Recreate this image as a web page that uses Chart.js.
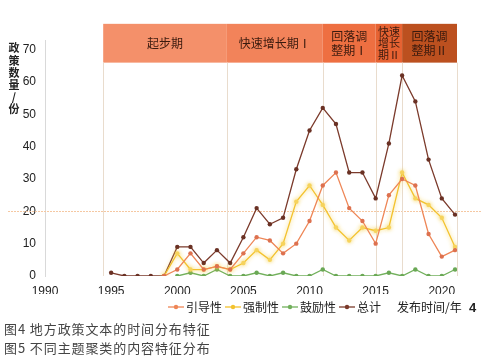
<!DOCTYPE html>
<html><head><meta charset="utf-8">
<script src="https://cdn.jsdelivr.net/npm/chart.js@4/dist/chart.umd.min.js"></script>
<style>
html,body{margin:0;padding:0;background:#fff;width:481px;height:357px;overflow:hidden;}
#wrap{position:absolute;left:0;top:0;width:481px;height:325px;}
.cap{position:absolute;left:4px;font:13px "Noto Sans CJK SC",sans-serif;line-height:19px;color:#444;letter-spacing:0.9px;white-space:pre;}
</style></head><body>
<div id="wrap"><canvas id="c" width="481" height="325"></canvas></div>
<div class="cap" style="top:319px">图4 地方政策文本的时间分布特征</div>
<div class="cap" style="top:338px">图5 不同主题聚类的内容特征分布</div>
<script>
// ---- data ----
const years = [1995,1996,1997,1998,1999,2000,2001,2002,2003,2004,2005,2006,2007,2008,2009,2010,2011,2012,2013,2014,2015,2016,2017,2018,2019,2020,2021];
const guiding     = [null,null,null,null,0,2,7,2,3,2,7,12,11,7,10,17,28,32,21,17,10,25,30,28,13,6,8];
const mandatory   = [null,null,null,null,0,7,2,2,3,2,4,8,5,10,23,28,22,15,11,15,14,15,32,24,22,18,9];
const encouraging = [null,null,null,null,null,0,1,0,2,0,0,1,0,1,0,0,2,0,0,0,0,1,0,2,0,0,2];
const total       = [1,0,0,0,0,9,9,4,8,4,12,21,16,18,33,45,52,47,32,32,24,41,62,54,36,24,19];
const seriesNames = ['引导性','强制性','鼓励性','总计'];
const periodNames = ['起步期','快速增长期Ⅰ','回落调\n整期Ⅰ','快速\n增长\n期Ⅱ','回落调\n整期Ⅱ'];
const periodEdges = [1994.4, 2003.75, 2011, 2015, 2017, 2021.15];
const yTicks = [0,10,20,30,40,50,60,70];
const xTicks = [1990,1995,2000,2005,2010,2015,2020];
const yAxisTitle = '政策数量/份';
const xAxisTitle = '发布时间/年';

// ---- styles ----
const colors = ['#EE8656','#F3C22E','#72B05C','#7B3A2B'];
const pointColors = ['#DD714F','#F6D35C','#6AA855','#6A3124'];
const periodColors = ['#F4906A','#F2835A','#EE6F41','#E66232','#BC501F'];

const toXY = arr => years.map((x,i)=>({x:x,y:arr[i]}));
const seriesData = [guiding, mandatory, encouraging, total];

function markerImg(color){
  const c=document.createElement('canvas'); c.width=16; c.height=8;
  const g=c.getContext('2d');
  g.strokeStyle=color; g.lineWidth=1.3;
  g.beginPath(); g.moveTo(0,4); g.lineTo(16,4); g.stroke();
  g.fillStyle=color; g.beginPath(); g.arc(8,4,2.2,0,Math.PI*2); g.fill();
  return c;
}
const markers = colors.map(markerImg);

Chart.defaults.font.family = '"Liberation Sans","Noto Sans CJK SC",sans-serif';
Chart.defaults.color = '#222';

const deco = {
  id:'deco',
  afterLayout(chart){
    const lg = chart.legend;
    if(!lg || !lg.lineWidths) return;
    const pad = lg.options.labels.padding;
    const start = (lg.left + pad + lg.right - lg.lineWidths[0]) / 2;
    const dx = 172 - start;
    lg.left += dx; lg.right += dx;
  },
  beforeDatasetsDraw(chart){
    const {ctx, scales:{x,y}, chartArea} = chart;
    ctx.save();
    // reference line at 20
    const y20 = y.getPixelForValue(20);
    ctx.strokeStyle='#F5C8A2'; ctx.lineWidth=1; ctx.setLineDash([2,1]);
    ctx.beginPath(); ctx.moveTo(8,Math.round(y20)+0.5); ctx.lineTo(chart.width,Math.round(y20)+0.5); ctx.stroke();
    ctx.setLineDash([]);
    // period bands
    const top = y.getPixelForValue(78), bot = y.getPixelForValue(66);
    for(let i=0;i<periodNames.length;i++){
      const l = x.getPixelForValue(periodEdges[i]), r = x.getPixelForValue(periodEdges[i+1]);
      ctx.fillStyle = periodColors[i];
      ctx.fillRect(l, top, r-l, bot-top);
      const lines = periodNames[i].split('\n');
      ctx.fillStyle = '#3A1A0E';
      const three = lines.length>2;
      ctx.font = (three?'11px':'12px')+' "Noto Sans CJK SC",sans-serif';
      ctx.textAlign='center'; ctx.textBaseline='middle';
      const lh = three ? 11.5 : 14.5;
      const cy = (top+bot)/2, cx=(l+r)/2;
      lines.forEach((t,k)=>ctx.fillText(t, cx, cy + (k-(lines.length-1)/2)*lh));
    }
    // vertical separators
    ctx.strokeStyle='#E9DCCD'; ctx.lineWidth=1;
    for(let i=0;i<periodEdges.length;i++){
      const px = Math.round(x.getPixelForValue(periodEdges[i]))+0.5;
      ctx.beginPath(); ctx.moveTo(px, bot); ctx.lineTo(px, chartArea.bottom); ctx.stroke();
    }
    ctx.restore();
  },
  beforeDatasetDraw(chart, args){
    if(args.index===1){ chart.ctx.save(); chart.ctx.shadowColor='rgba(246,205,60,0.85)'; chart.ctx.shadowBlur=4; }
  },
  afterDatasetDraw(chart, args){
    if(args.index===1){ chart.ctx.restore(); }
  },
  afterDraw(chart){
    const ctx = chart.ctx;
    ctx.save();
    ctx.fillStyle='#222';
    ctx.font='bold 11px "Noto Sans CJK SC",sans-serif';
    ctx.textAlign='center'; ctx.textBaseline='middle';
    const chars = Array.from(yAxisTitle);
    const ys=[48,60.5,73,85,97,109];
    chars.forEach((c,i)=>ctx.fillText(c, 14, ys[i]));
    ctx.font='12px "Noto Sans CJK SC",sans-serif';
    ctx.textAlign='left';
    ctx.fillText(xAxisTitle, 397, 307);
    ctx.font='bold 13px "Liberation Sans",sans-serif';
    ctx.fillText('4', 469, 308);
    ctx.restore();
  }
};

new Chart(document.getElementById('c'), {
  type:'line',
  data:{
    datasets: seriesData.map((d,i)=>({
      label: seriesNames[i],
      data: toXY(d),
      borderColor: colors[i],
      backgroundColor: pointColors[i],
      pointBackgroundColor: pointColors[i],
      pointBorderColor: pointColors[i],
      pointRadius: 2.2,
      pointBorderWidth: 0,
      borderWidth: 1.3,
      tension: 0,
      spanGaps: false
    }))
  },
  options:{
    responsive:false,
    animation:false,
    layout:{padding:{top:40,right:24,left:0,bottom:2}},
    plugins:{
      tooltip:{enabled:false},
      legend:{
        position:'bottom',
        labels:{
          usePointStyle:true,
          pointStyleWidth:8,
          boxHeight:8,
          padding:7,
          color:'#222',
          font:{size:12, family:'"Noto Sans CJK SC",sans-serif'},
          generateLabels(chart){
            const items = Chart.defaults.plugins.legend.labels.generateLabels(chart);
            items.forEach((it,i)=>{ it.pointStyle = markers[i]; });
            return items;
          }
        }
      }
    },
    scales:{
      x:{
        type:'linear', min:1990, max:2021.15,
        grid:{display:false, drawTicks:false},
        border:{display:false},
        afterBuildTicks(s){ s.ticks = xTicks.map(v=>({value:v})); },
        afterFit(s){ s.height = 18; },
        ticks:{padding:8, font:{size:12}, color:'#222', maxRotation:0, autoSkip:false, callback:v=>String(v)}
      },
      y:{
        min:0, max:73,
        grid:{display:false, drawTicks:false},
        border:{display:true, color:'#D9D9D9', width:1},
        afterBuildTicks(s){ s.ticks = yTicks.map(v=>({value:v})); },
        afterFit(s){ s.width = 45; },
        ticks:{padding:9, font:{size:12}, color:'#222', callback:v=>String(v)}
      }
    }
  },
  plugins:[deco]
});
</script>
</body></html>
